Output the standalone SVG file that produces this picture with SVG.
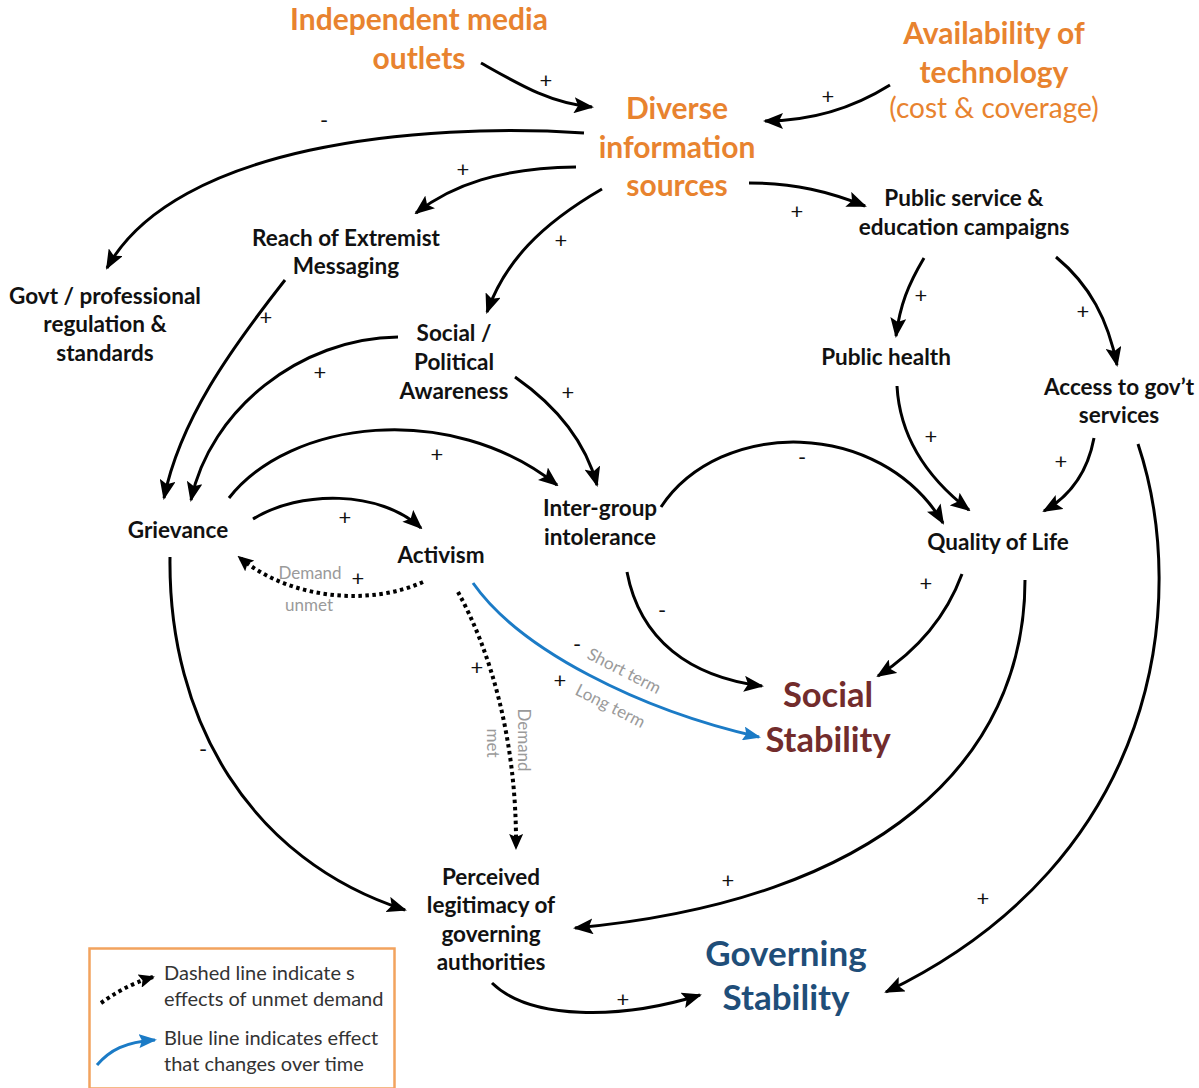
<svg xmlns="http://www.w3.org/2000/svg" width="1199" height="1088" viewBox="0 0 1199 1088">
  <style>
    text { font-family: Lato, "Open Sans", "Liberation Sans", sans-serif; }
    .node { font-weight: bold; font-size: 22.5px; fill: #111; text-anchor: middle; }
    .orange { font-weight: bold; font-size: 30px; fill: #E8832F; text-anchor: middle; }
    .orange-sub { font-weight: normal; font-size: 28px; fill: #E8832F; text-anchor: middle; }
    .social { font-weight: bold; font-size: 34.5px; fill: #722C2C; text-anchor: middle; }
    .governing { font-weight: bold; font-size: 35px; fill: #1F4E79; text-anchor: middle; }
    .sign { font-size: 22px; fill: #111; text-anchor: middle; }
    .note { font-size: 17px; fill: #9a9a9a; }
    .legend-text { font-size: 20px; fill: #333; }
    .link { fill: none; stroke: #000; stroke-width: 3; marker-end: url(#arrow); }
    .dotted { fill: none; stroke: #000; stroke-width: 4; stroke-dasharray: 3.5 3.5; marker-end: url(#arrow-small); }
    .blue { fill: none; stroke: #1B7BC6; stroke-width: 3; marker-end: url(#arrow-blue); }
  </style>
  <defs>
    <marker id="arrow" markerUnits="userSpaceOnUse" markerWidth="20" markerHeight="16" refX="18" refY="8" orient="auto">
      <path d="M0,0 L20,8 L0,16 L4,8 z" fill="#000"/>
    </marker>
    <marker id="arrow-small" markerUnits="userSpaceOnUse" markerWidth="16" markerHeight="14" refX="14" refY="7" orient="auto">
      <path d="M0,0 L16,7 L0,14 L3,7 z" fill="#000"/>
    </marker>
    <marker id="arrow-blue" markerUnits="userSpaceOnUse" markerWidth="18" markerHeight="14" refX="16" refY="7" orient="auto">
      <path d="M0,0 L18,7 L0,14 L3,7 z" fill="#1B7BC6"/>
    </marker>
  </defs>

  <rect width="1199" height="1088" fill="#fff"/>

  <!-- causal links -->
  <g id="connectors">
    <path class="link" d="M481,63 C 520,85 550,103 592,107"/>
    <path class="link" d="M890,85 C 850,110 810,121 765,121"/>
    <path class="link" d="M584,133 C 420,122 175,145 107,268"/>
    <path class="link" d="M576,167 C 500,168 452,185 416,213"/>
    <path class="link" d="M602,189 C 540,225 505,262 487,312"/>
    <path class="link" d="M749,183 C 795,183 830,192 865,206"/>
    <path class="link" d="M924,258 C 908,285 900,305 896,336"/>
    <path class="link" d="M1056,257 C 1090,285 1108,320 1117,365"/>
    <path class="link" d="M897,386 C 900,440 930,480 969,510"/>
    <path class="link" d="M1094,438 C 1088,470 1072,495 1044,511"/>
    <path class="link" d="M1138,444 C 1190,600 1160,860 886,992"/>
    <path class="link" d="M1025,580 C 1025,760 880,900 575,928"/>
    <path class="link" d="M962,574 C 945,620 915,652 878,676"/>
    <path class="link" d="M661,507 C 720,418 880,418 943,523"/>
    <path class="link" d="M627,572 C 640,640 690,677 762,686"/>
    <path class="link" d="M285,280 C 230,350 180,420 164,498"/>
    <path class="link" d="M398,337 C 300,338 210,410 191,500"/>
    <path class="link" d="M515,377 C 555,405 585,440 597,485"/>
    <path class="link" d="M229,498 C 290,420 450,400 557,485"/>
    <path class="link" d="M253,519 C 300,490 380,490 421,528"/>
    <path class="link" d="M170,557 C 168,720 250,860 405,910"/>
    <path class="link" d="M492,983 C 530,1020 620,1020 700,995"/>
    <path class="dotted" d="M423,582 C 370,606 290,600 239,557"/>
    <path class="dotted" d="M458,592 C 490,650 517,740 516,848"/>
    <path class="blue" d="M473,583 C 520,650 640,710 759,737"/>

    <!-- polarity signs -->
    <g id="link-signs">
      <text class="sign" x="546" y="88">+</text>
      <text class="sign" x="828" y="104">+</text>
      <text class="sign" x="324" y="128">-</text>
      <text class="sign" x="463" y="177">+</text>
      <text class="sign" x="561" y="248">+</text>
      <text class="sign" x="797" y="219">+</text>
      <text class="sign" x="921" y="303">+</text>
      <text class="sign" x="1083" y="319">+</text>
      <text class="sign" x="931" y="444">+</text>
      <text class="sign" x="1061" y="469">+</text>
      <text class="sign" x="983" y="906">+</text>
      <text class="sign" x="728" y="888">+</text>
      <text class="sign" x="926" y="591">+</text>
      <text class="sign" x="802" y="465">-</text>
      <text class="sign" x="662" y="618">-</text>
      <text class="sign" x="266" y="325">+</text>
      <text class="sign" x="320" y="380">+</text>
      <text class="sign" x="568" y="400">+</text>
      <text class="sign" x="437" y="462">+</text>
      <text class="sign" x="345" y="525">+</text>
      <text class="sign" x="358" y="586">+</text>
      <text class="sign" x="477" y="675">+</text>
      <text class="sign" x="203" y="757">-</text>
      <text class="sign" x="623" y="1007">+</text>
      <text class="sign" x="577" y="652">-</text>
      <text class="sign" x="560" y="688">+</text>
    </g>

    <!-- notes on the activism links -->
    <g id="link-notes">
      <text class="note" x="310" y="579" text-anchor="middle">Demand</text>
      <text class="note" x="309" y="611" text-anchor="middle">unmet</text>
      <text class="note" transform="translate(518,740) rotate(90)" text-anchor="middle">Demand</text>
      <text class="note" transform="translate(487,743) rotate(90)" text-anchor="middle">met</text>
      <text class="note" transform="translate(586,658) rotate(27)">Short term</text>
      <text class="note" transform="translate(574,694) rotate(27)">Long term</text>
    </g>
  </g>

  <!-- variables -->
  <g id="independent-media">
    <text class="orange" x="419" y="30">Independent media</text>
    <text class="orange" x="419" y="69">outlets</text>
  </g>
  <g id="availability-of-technology">
    <text class="orange" x="994" y="44">Availability of</text>
    <text class="orange" x="994" y="83">technology</text>
    <text class="orange-sub" x="994" y="118">(cost &amp; coverage)</text>
  </g>
  <g id="diverse-information-sources">
    <text class="orange" x="677" y="119">Diverse</text>
    <text class="orange" x="677" y="158">information</text>
    <text class="orange" x="677" y="196">sources</text>
  </g>
  <g id="public-service-campaigns">
    <text class="node" x="964" y="206">Public service &amp;</text>
    <text class="node" x="964" y="235">education campaigns</text>
  </g>
  <g id="reach-of-extremist-messaging">
    <text class="node" x="346" y="246">Reach of Extremist</text>
    <text class="node" x="346" y="274">Messaging</text>
  </g>
  <g id="govt-regulation">
    <text class="node" x="105" y="304">Govt / professional</text>
    <text class="node" x="105" y="332">regulation &amp;</text>
    <text class="node" x="105" y="361">standards</text>
  </g>
  <g id="social-political-awareness">
    <text class="node" x="454" y="341">Social /</text>
    <text class="node" x="454" y="370">Political</text>
    <text class="node" x="454" y="399">Awareness</text>
  </g>
  <g id="public-health">
    <text class="node" x="886" y="365">Public health</text>
  </g>
  <g id="access-to-govt-services">
    <text class="node" x="1119" y="395">Access to gov’t</text>
    <text class="node" x="1119" y="423">services</text>
  </g>
  <g id="grievance">
    <text class="node" x="178" y="538">Grievance</text>
  </g>
  <g id="activism">
    <text class="node" x="441" y="563">Activism</text>
  </g>
  <g id="inter-group-intolerance">
    <text class="node" x="600" y="516">Inter-group</text>
    <text class="node" x="600" y="545">intolerance</text>
  </g>
  <g id="quality-of-life">
    <text class="node" x="998" y="550">Quality of Life</text>
  </g>
  <g id="social-stability">
    <text class="social" x="828" y="707">Social</text>
    <text class="social" x="828" y="752">Stability</text>
  </g>
  <g id="perceived-legitimacy">
    <text class="node" x="491" y="885">Perceived</text>
    <text class="node" x="491" y="913">legitimacy of</text>
    <text class="node" x="491" y="942">governing</text>
    <text class="node" x="491" y="970">authorities</text>
  </g>
  <g id="governing-stability">
    <text class="governing" x="786" y="966">Governing</text>
    <text class="governing" x="786" y="1010">Stability</text>
  </g>

  <!-- key -->
  <g id="legend">
    <rect x="89.5" y="948.5" width="305" height="140" fill="#fff" stroke="#F2A35E" stroke-width="2.5"/>
    <path class="dotted" d="M101,1003 C 115,993 130,984 153,977"/>
    <path class="blue" d="M97,1065 C 110,1050 125,1042 155,1040"/>
    <text class="legend-text" x="164" y="980">Dashed line indicate s</text>
    <text class="legend-text" x="164" y="1006">effects of unmet demand</text>
    <text class="legend-text" x="164" y="1045">Blue line indicates effect</text>
    <text class="legend-text" x="164" y="1071">that changes  over time</text>
  </g>
</svg>
